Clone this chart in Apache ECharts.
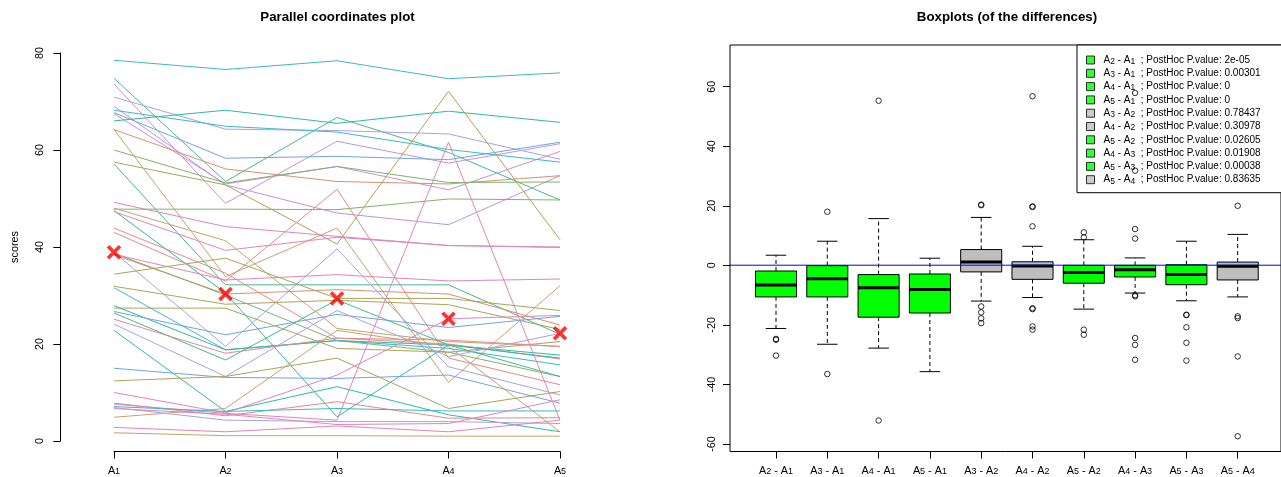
<!DOCTYPE html>
<html><head><meta charset="utf-8">
<script src="https://cdn.jsdelivr.net/npm/echarts@6/dist/echarts.min.js"></script>
<style>html,body{margin:0;padding:0;background:#fff}#c{width:1281px;height:477px}</style>
</head><body><div id="c"></div>
<script>
// ---------- data: parallel coordinates ----------
const axisNames = ['A\u2081', 'A\u2082', 'A\u2083', 'A\u2084', 'A\u2085'];
const scoresA1 = [78.5,74.8,73.6,70.9,69.0,67.5,68.2,67.7,66.0,64.2,64.2,60.0,57.5,57.1,49.2,47.8,48.0,47.5,47.3,43.9,43.0,38.9,38.4,38.7,38.5,34.4,31.9,31.6,27.4,27.9,26.7,26.4,25.1,24.1,22.8,15.0,12.4,10.0,4.9,7.8,7.6,7.1,6.9,6.7,2.8,1.7];
const scoresA2 = [76.6,53.5,49.0,64.3,52.8,53.0,64.9,58.3,68.2,56.1,33.9,53.2,52.8,32.2,44.2,47.8,41.3,30.5,39.3,34.6,33.0,19.5,30.3,30.1,33.2,37.7,28.2,18.8,27.4,18.8,21.9,16.7,18.1,13.3,6.1,13.1,13.3,5.8,6.7,5.2,5.7,6.1,4.3,5.5,1.9,1.1];
const scoresA3 = [78.4,66.7,61.8,64.0,47.0,56.6,63.7,58.7,65.5,53.5,43.9,56.6,40.6,32.2,42.2,47.7,23.2,5.0,42.0,21.2,51.9,39.6,31.2,20.7,34.3,29.4,29.0,20.7,19.1,20.7,26.1,29.1,21.2,26.9,11.2,12.9,17.1,13.6,22.8,8.1,4.3,6.7,4.0,3.4,3.1,1.1];
const scoresA4 = [74.7,59.5,57.3,63.3,44.6,51.8,60.1,58.0,68.0,53.0,12.1,53.3,72.1,32.2,40.3,49.9,20.5,19.8,40.3,20.0,17.1,15.3,30.3,18.3,33.0,29.4,28.1,19.1,18.3,19.8,23.4,19.8,20.8,17.4,5.4,13.6,6.7,25.2,19.5,4.7,61.6,6.2,4.0,3.6,1.9,1.0];
const scoresA5 = [75.9,49.7,61.3,58.1,54.7,59.7,57.5,61.6,65.7,54.7,32.0,53.4,41.5,22.0,40.0,49.7,19.5,17.7,39.9,16.9,11.6,9.5,23.9,13.3,33.4,26.9,23.0,15.7,20.5,17.1,25.7,13.3,19.5,22.2,1.9,7.8,10.2,25.9,1.9,4.8,4.3,6.2,3.6,8.5,4.3,1.0];
const meanScores = [38.9, 30.3, 29.4, 25.2, 22.2];
const leftTicks = [0, 20, 40, 60, 80];

// ---------- data: boxplots of differences ----------
const diffLabels = ['A\u2082 - A\u2081','A\u2083 - A\u2081','A\u2084 - A\u2081','A\u2085 - A\u2081','A\u2083 - A\u2082','A\u2084 - A\u2082','A\u2085 - A\u2082','A\u2084 - A\u2083','A\u2085 - A\u2083','A\u2085 - A\u2084'];
const boxMin    = [-21.2,-26.5,-27.8,-35.7,-12.0,-10.8,-14.7,-9.3,-11.9,-10.6];
const boxQ1     = [-10.6,-10.6,-17.4,-16.0,-2.2,-4.7,-6.0,-3.9,-6.5,-4.9];
const boxMedian = [-6.6,-4.5,-7.5,-8.1,1.1,-0.2,-2.4,-1.5,-3.1,-0.3];
const boxQ3     = [-1.9,-0.1,-3.1,-2.9,5.3,1.2,0.0,0.0,0.2,1.1];
const boxMax    = [3.4,8.1,15.7,2.4,16.1,6.4,8.6,2.5,8.1,10.4];
const outliers = [
  [-24.7,-25.0,-30.3],
  [18.0,-36.5],
  [55.3,-52.1],
  [],
  [20.4,20.2,-13.8,-15.8,-17.8,-19.4],
  [56.8,19.8,19.6,13.1,-14.4,-14.7,-20.5,-21.6],
  [11.1,9.4,-21.6,-23.3],
  [57.9,31.8,12.2,9.0,-10.0,-10.4,-24.4,-26.7,-31.7],
  [-16.6,-16.7,-20.8,-26.0,-32.0],
  [20.0,-17.1,-17.7,-30.6,-57.4]
];
const pValueText = ['2e-05','0.00301','0','0','0.78437','0.30978','0.02605','0.01908','0.00038','0.83635'];
const rightTicks = [-60, -40, -20, 0, 20, 40, 60];

// ---------- styles ----------
const palette = {
  cyan:'#3DB7CC', teal:'#2FB8A6', tgreen:'#45B98E', green:'#7DB568', olive:'#A9A559',
  tan:'#C9A267', orange:'#D9916E', red:'#E28A8E', pink:'#DF86B9', purple:'#C690DC',
  lav:'#A8A2E6', blue:'#6EA6DD'
};
const lineColorKeys = ['cyan','tgreen','purple','lav','purple','purple','cyan','blue','teal','orange','tan','green','olive','tgreen','pink','green','tan','teal','pink','red','red','lav','orange','green','pink','olive','olive','cyan','olive','teal','blue','tgreen','red','lav','teal','blue','olive','pink','tan','red','pink','cyan','lav','pink','pink','tan'];
const FONT = '"Liberation Sans", Arial, Helvetica, sans-serif';
const sigColor = p => (Number(p) < 0.05 ? '#00FF00' : '#BEBEBE');
// turn unicode subscript digits into rich-text subscript tokens
const subRich = s => s.replace(/[\u2080-\u2089]/g, ch => '{s|' + (ch.charCodeAt(0) - 0x2080) + '}');
const richSub = (size) => ({ s: { fontSize: size, fontFamily: FONT, color: '#000', padding: [2, 0, 0, 0], verticalAlign: 'bottom' } });

const lineSeries = scoresA1.map((_, i) => ({
  type: 'line', xAxisIndex: 0, yAxisIndex: 0,
  data: [scoresA1[i], scoresA2[i], scoresA3[i], scoresA4[i], scoresA5[i]],
  symbol: 'none', silent: true, z: 2, animation: false,
  lineStyle: { width: 1, color: palette[lineColorKeys[i]] }
}));

const boxData = boxMin.map((_, i) => [i, boxMin[i], boxQ1[i], boxMedian[i], boxQ3[i], boxMax[i]]);
const outlierData = [];
outliers.forEach((arr, i) => arr.forEach(v => outlierData.push([i, v])));

const legendNames = diffLabels.map((d, i) => d + '  ; PostHoc P.value: ' + pValueText[i]);
const legendSeries = legendNames.map((n, i) => ({
  type: 'scatter', name: n, xAxisIndex: 2, yAxisIndex: 2, data: [],
  itemStyle: { color: sigColor(pValueText[i]), borderColor: '#000', borderWidth: 1 }
}));

const AXFS = 10.8;
const axisText = { color: '#000', fontFamily: FONT, fontSize: AXFS };

const chart = echarts.init(document.getElementById('c'), null, { renderer: 'canvas' });
chart.setOption({
  animation: false,
  backgroundColor: '#fff',
  graphic: [
    { type: 'text', x: 337.5, y: 17.3, style: { text: 'Parallel coordinates plot', font: 'bold 13.3px ' + FONT, fill: '#000', align: 'center', verticalAlign: 'middle' } },
    { type: 'text', x: 1007, y: 17.3, style: { text: 'Boxplots (of the differences)', font: 'bold 13.3px ' + FONT, fill: '#000', align: 'center', verticalAlign: 'middle' } }
  ],
  grid: [
    { left: 114, right: 721, top: 53, bottom: 36 },
    { left: 730, right: -3, top: 45, bottom: 25.5, show: true, borderColor: '#000', borderWidth: 1, backgroundColor: 'rgba(0,0,0,0)' },
    { left: 750.35, right: 17.65, top: 86.7, bottom: 33 }
  ],
  xAxis: [
    { gridIndex: 0, type: 'category', data: axisNames, boundaryGap: false, offset: 10.5,
      axisLine: { onZero: false, lineStyle: { color: '#000', width: 1 } },
      axisTick: { length: 7, lineStyle: { color: '#000' } },
      axisLabel: Object.assign({ margin: 14, formatter: subRich, rich: richSub(9) }, axisText), splitLine: { show: false } },
    { gridIndex: 1, type: 'value', min: 0, max: 1, show: false },
    { gridIndex: 2, type: 'category', data: diffLabels, offset: 7.5,
      axisLine: { show: false, onZero: false },
      axisTick: { show: true, alignWithLabel: true, length: 7, lineStyle: { color: '#000' } },
      axisLabel: Object.assign({ margin: 14, interval: 0, formatter: subRich, rich: richSub(9) }, axisText), splitLine: { show: false } }
  ],
  yAxis: [
    { gridIndex: 0, type: 'value', min: leftTicks[0], max: leftTicks[leftTicks.length - 1], interval: 20, offset: 53.7,
      name: 'scores', nameLocation: 'middle', nameRotate: 90, nameGap: 40,
      nameTextStyle: { color: '#000', fontFamily: FONT, fontSize: AXFS },
      axisLine: { show: true, onZero: false, lineStyle: { color: '#000', width: 1 } },
      axisTick: { show: true, length: 7, lineStyle: { color: '#000' } },
      axisLabel: Object.assign({ rotate: 90, margin: 15 }, axisText), splitLine: { show: false } },
    { gridIndex: 1, type: 'value', min: -62.6, max: 74.0, show: false },
    { gridIndex: 2, type: 'value', min: rightTicks[0], max: rightTicks[rightTicks.length - 1], interval: 20, offset: 20.35,
      axisLine: { show: false, onZero: false },
      axisTick: { show: true, length: 7, lineStyle: { color: '#000' } },
      axisLabel: Object.assign({ rotate: 90, margin: 12.5 }, axisText), splitLine: { show: false } }
  ],
  legend: {
    data: legendNames, orient: 'vertical', left: 1077, top: 45, selectedMode: false,
    icon: 'rect', itemWidth: 8, itemHeight: 8, itemGap: 1.3,
    padding: [9, 40, 7, 9], backgroundColor: '#fff', borderColor: '#000', borderWidth: 1, borderRadius: 0,
    itemStyle: { borderColor: '#000', borderWidth: 1 },
    formatter: subRich,
    textStyle: { color: '#000', fontFamily: FONT, fontSize: 10, lineHeight: 12, padding: [0, 0, 0, 4],
      rich: { s: { fontSize: 8.5, fontFamily: FONT, color: '#000', lineHeight: 12, padding: [2, 0, 0, 0], verticalAlign: 'bottom' } } },
    z: 4
  },
  series: [
    ...lineSeries,
    { type: 'scatter', xAxisIndex: 0, yAxisIndex: 0, data: meanScores, z: 6, silent: true,
      symbol: 'path://M0,0L10,10M10,0L0,10', symbolSize: 12,
      itemStyle: { color: 'rgba(0,0,0,0)', borderColor: '#FF0000', borderWidth: 3.6 } },
    { type: 'custom', xAxisIndex: 2, yAxisIndex: 2, data: boxData, z: 3, silent: true,
      encode: { x: 0, y: [1, 2, 3, 4, 5] },
      renderItem: function (params, api) {
        const i = api.value(0);
        const c = v => api.coord([i, v]);
        const pMin = c(api.value(1)), pQ1 = c(api.value(2)), pMd = c(api.value(3)), pQ3 = c(api.value(4)), pMax = c(api.value(5));
        const bw = api.size([1, 0])[0] * 0.8;
        const x = pMd[0];
        const fill = sigColor(pValueText[params.dataIndex]);
        const solid = { stroke: '#000', lineWidth: 1 };
        const dashed = { stroke: '#000', lineWidth: 1, lineDash: [4, 3] };
        return { type: 'group', children: [
          { type: 'line', shape: { x1: x, y1: pQ3[1], x2: x, y2: pMax[1] }, style: dashed },
          { type: 'line', shape: { x1: x, y1: pQ1[1], x2: x, y2: pMin[1] }, style: dashed },
          { type: 'line', shape: { x1: x - bw / 4, y1: pMax[1], x2: x + bw / 4, y2: pMax[1] }, style: solid },
          { type: 'line', shape: { x1: x - bw / 4, y1: pMin[1], x2: x + bw / 4, y2: pMin[1] }, style: solid },
          { type: 'rect', shape: { x: x - bw / 2, y: pQ3[1], width: bw, height: pQ1[1] - pQ3[1] }, style: { fill: fill, stroke: '#000', lineWidth: 1 } },
          { type: 'line', shape: { x1: x - bw / 2, y1: pMd[1], x2: x + bw / 2, y2: pMd[1] }, style: { stroke: '#000', lineWidth: 3 } }
        ] };
      } },
    { type: 'line', xAxisIndex: 1, yAxisIndex: 1, data: [[0, 0], [1, 0]], symbol: 'none', z: 7, silent: true,
      lineStyle: { color: '#0000FF', width: 1 } },
    { type: 'scatter', xAxisIndex: 2, yAxisIndex: 2, data: outlierData, z: 10, silent: true,
      symbol: 'circle', symbolSize: 5.5,
      itemStyle: { color: 'rgba(0,0,0,0)', borderColor: '#000', borderWidth: 1 } },
    ...legendSeries
  ]
});
</script></body></html>
